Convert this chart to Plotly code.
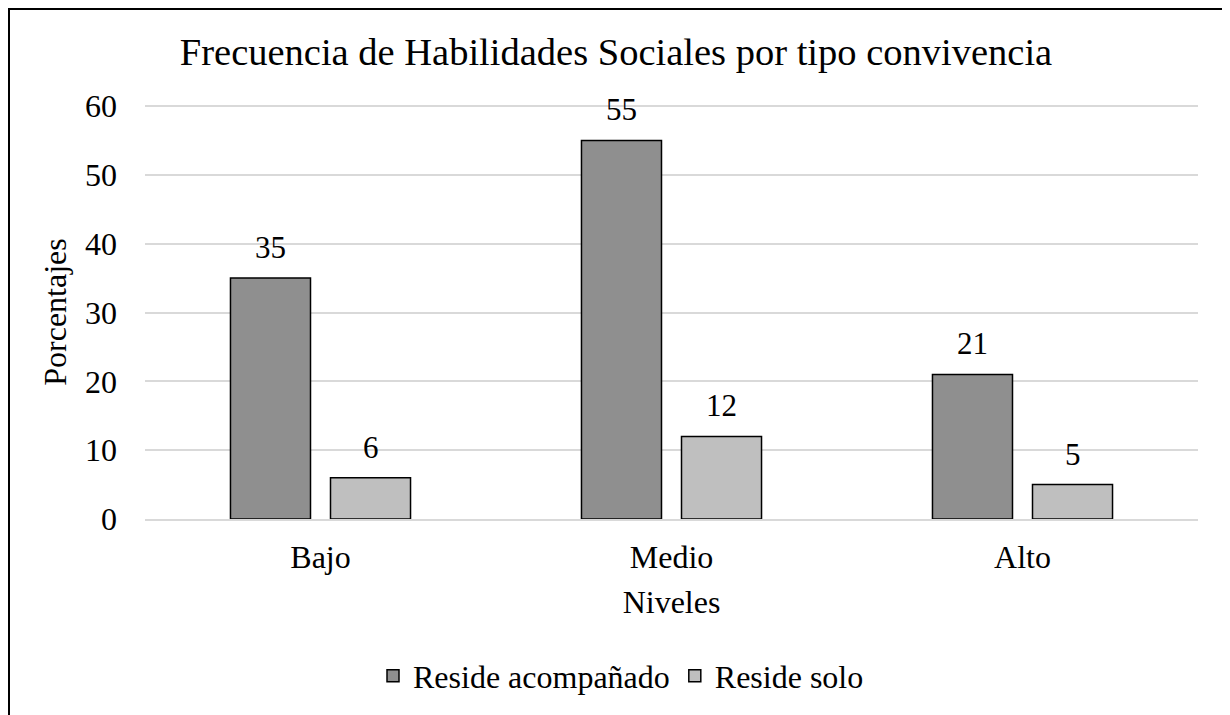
import plotly.graph_objects as go

categories = ["Bajo", "Medio", "Alto"]
acompanado = [35, 55, 21]
solo = [6, 12, 5]
series_names = ["Reside acompañado", "Reside solo"]
y_ticks = [0, 10, 20, 30, 40, 50, 60]

FONT = "Liberation Serif, Times New Roman, serif"
OFF = 8  # page body margin
W, H = 1230 - OFF, 715 - OFF
L = 145 - OFF
T = 105 - OFF
R = W - (1198 - OFF)
B = H - (519 - OFF)
PW, PH = W - L - R, H - T - B

fig = go.Figure()
fig.add_trace(go.Bar(x=categories, y=acompanado, name=series_names[0],
                     marker=dict(color="#8f8f8f", line=dict(color="#000000", width=1.5))))
fig.add_trace(go.Bar(x=categories, y=solo, name=series_names[1],
                     marker=dict(color="#bfbfbf", line=dict(color="#000000", width=1.5))))

anns = []
for vals, xs in ((acompanado, -50), (solo, 50)):
    for c, v in zip(categories, vals):
        anns.append(dict(x=c, y=v, text=str(v), showarrow=False, xshift=xs,
                         yanchor="bottom", yshift=11,
                         font=dict(family=FONT, size=31, color="#000000")))

def px_to_paper_x(px):
    return (px - OFF - L) / PW

def px_to_paper_y(py):
    return (H - B - (py - OFF)) / PH

fig.update_layout(
    width=W, height=H,
    margin=dict(l=L, r=R, t=T, b=B),
    paper_bgcolor="white", plot_bgcolor="white",
    barmode="group", bargap=0.43, bargroupgap=0.2,
    font=dict(family=FONT, size=32, color="#000000"),
    title=dict(text="Frecuencia de Habilidades Sociales por tipo convivencia",
               x=px_to_paper_x(616), xref="paper", xanchor="center",
               y=1 - (52 - OFF) / H, yref="container", yanchor="middle",
               font=dict(family=FONT, size=38.5, color="#000000")),
    xaxis=dict(showgrid=False, showline=True, linecolor="#d9d9d9", linewidth=1.5,
               ticks="", ticklabelstandoff=9,
               tickfont=dict(family=FONT, size=32),
               title=dict(text="Niveles", standoff=16, font=dict(family=FONT, size=32))),
    yaxis=dict(range=[0, 60.15], tickvals=y_ticks, showgrid=True, gridcolor="#d9d9d9",
               gridwidth=1.5, zeroline=False, showline=False, ticks="",
               ticklabelstandoff=27,
               tickfont=dict(family=FONT, size=32),
               title=dict(text="Porcentajes", standoff=8, font=dict(family=FONT, size=32))),
    legend=dict(orientation="h", x=px_to_paper_x(621), xanchor="center",
                y=px_to_paper_y(676), yanchor="middle",
                font=dict(family=FONT, size=32), itemwidth=30,
                traceorder="normal"),
    annotations=anns,
    shapes=[dict(type="rect", xref="paper", yref="paper",
                 x0=px_to_paper_x(OFF + 1), x1=px_to_paper_x(1228),
                 y0=px_to_paper_y(725), y1=px_to_paper_y(OFF + 1),
                 line=dict(color="#000000", width=2), fillcolor="rgba(0,0,0,0)",
                 layer="below")],
)

fig.write_html("out.html")
